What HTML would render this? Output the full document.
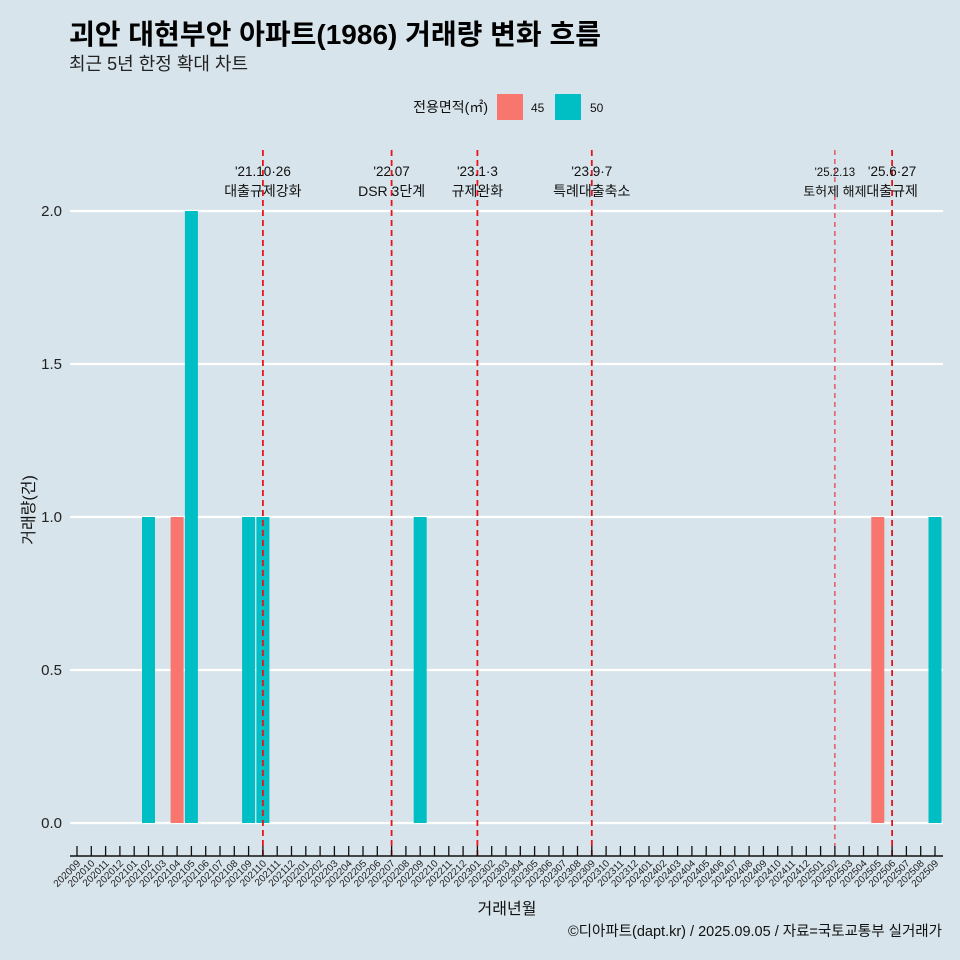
<!DOCTYPE html>
<html><head><meta charset="utf-8">
<style>
body{margin:0;background:#d7e4eb;}
svg{display:block;font-family:"Liberation Sans","Noto Sans CJK KR",sans-serif;}
</style></head>
<body>
<svg id="chart" width="960" height="960" viewBox="0 0 960 960">
<rect width="960" height="960" fill="#d7e4eb"/>
<text x="69" y="44" font-size="28" font-weight="bold" fill="#000">괴안 대현부안 아파트(1986) 거래량 변화 흐름</text>
<text x="69" y="70" font-size="18" fill="#222">최근 5년 한정 확대 차트</text>
<g>
<text x="488" y="112" font-size="14" text-anchor="end" fill="#111">전용면적(㎡)</text>
<rect x="497" y="94" width="26" height="26" fill="#f8766d"/>
<text x="531" y="112" font-size="12" fill="#111">45</text>
<rect x="555" y="94" width="26" height="26" fill="#00bfc4"/>
<text x="590" y="112" font-size="12" fill="#111">50</text>
</g>
<g id="grid"></g><g id="bars"></g><g id="events"></g><g id="axes"></g>
<text transform="translate(34,510) rotate(-90)" font-size="16" text-anchor="middle" fill="#111">거래량(건)</text>
<text x="507" y="914" font-size="16" text-anchor="middle" fill="#111">거래년월</text>
<text x="942" y="936" font-size="14.5" text-anchor="end" fill="#111">©디아파트(dapt.kr) / 2025.09.05 / 자료=국토교통부 실거래가</text>
</svg>
<script>
const months = [];
for (let y = 2020, m = 9; !(y === 2025 && m === 10); ) { months.push(String(y) + String(m).padStart(2, '0')); m++; if (m > 12) { m = 1; y++; } }
const barMonths = ['202102','202104','202105','202109','202110','202209','202505','202509'];
const barSizes  = ['50','45','50','50','50','50','45','50'];
const barValues = [1,1,2,1,1,1,1,1];
const yTicks = [0,0.5,1,1.5,2];
const yTickLabels = ['0.0','0.5','1.0','1.5','2.0'];
const eventMonths = ['202110','202207','202301','202309','202502','202506'];
const eventDates = ["'21.10·26","'22.07","'23.1·3","'23.9·7","'25.2.13","'25.6·27"];
const eventLabels = ['대출규제강화','DSR 3단계','규제완화','특례대출축소','토허제 해제','대출규제'];
const colors = {'45':'#f8766d','50':'#00bfc4'};
const NS = 'http://www.w3.org/2000/svg';
const x0 = 77, dx = 14.3, y0 = 823, yTop = 211, vMax = 2;
function xs(m){ return x0 + months.indexOf(m) * dx; }
function ys(v){ return y0 - (v / vMax) * (y0 - yTop); }
function mk(tag, attrs, parent, text){ const e = document.createElementNS(NS, tag); for (const k in attrs) e.setAttribute(k, attrs[k]); if (text !== undefined) e.textContent = text; parent.appendChild(e); return e; }
const grid = document.getElementById('grid'), bars = document.getElementById('bars'), ev = document.getElementById('events'), ax = document.getElementById('axes');
yTicks.forEach((t, i) => {
  const l = mk('line', {x1:70, x2:943, y1:ys(t), y2:ys(t), stroke:'#fff', 'stroke-width':2.2}, grid);
  
  
  const tx = mk('text', {x:62, y:ys(t)+5, 'font-size':15, 'text-anchor':'end', fill:'#222'}, grid, yTickLabels[i]);
  
  
});
barMonths.forEach((m, i) => {
  const x = xs(m), w = 13;
  const r = mk('rect', {x:x-w/2, y:ys(barValues[i]), width:w, height:y0-ys(barValues[i]), fill:colors[barSizes[i]]}, bars);
  
  
});
eventMonths.forEach((m, i) => {
  const x = xs(m), thin = m === '202502';
  const l = mk('line', {x1:x, x2:x, y1:150, y2:856, stroke:'#e8141c', 'stroke-width':thin?1:1.8, 'stroke-dasharray':thin?'5,4':'6,4'}, ev);
  
  
  const fs = thin ? 11.5 : 13.5;
  const t1 = mk('text', {x:x, y:176, 'font-size':fs, 'text-anchor':'middle', fill:'#111'}, ev, eventDates[i]);
  
  
  const t2 = mk('text', {x:x, y:196, 'font-size':thin?13:14, 'text-anchor':'middle', fill:'#111'}, ev, eventLabels[i]);
  
  
});
const axl = mk('line', {x1:70, x2:943, y1:856, y2:856, stroke:'#111', 'stroke-width':1.5}, ax);


months.forEach(m => {
  const x = xs(m);
  const t = mk('line', {x1:x, x2:x, y1:846, y2:856, stroke:'#111', 'stroke-width':1.3}, ax);
  
  
  const lb = mk('text', {transform:'translate(' + (x+4) + ',864) rotate(-45)', 'font-size':10, 'text-anchor':'end', fill:'#222'}, ax, m);
  
  
});
</script>
</body></html>
